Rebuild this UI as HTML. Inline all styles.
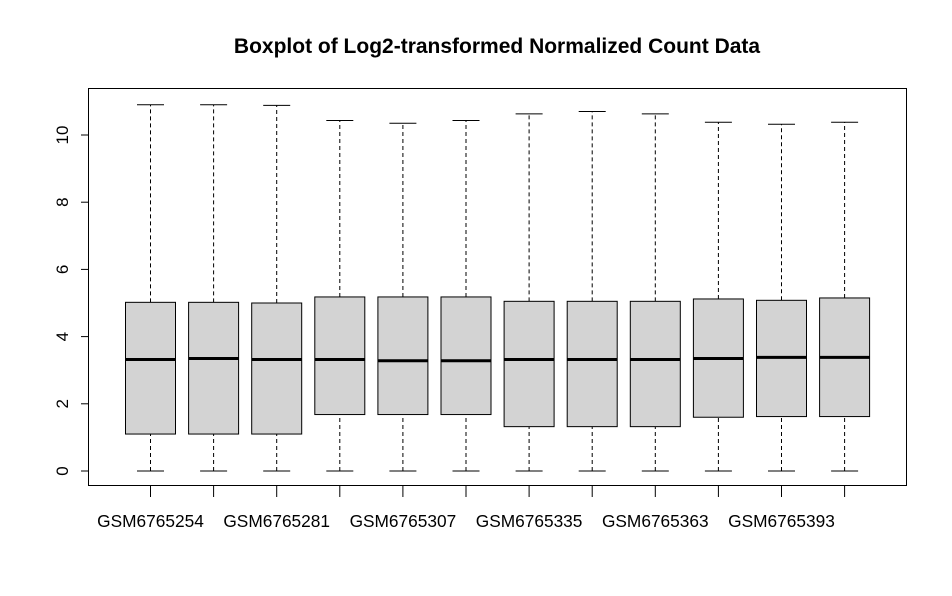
<!DOCTYPE html>
<html><head><meta charset="utf-8"><style>body{margin:0;background:#fff}svg{display:block}</style></head>
<body>
<svg id="chart" width="952" height="596" xmlns="http://www.w3.org/2000/svg" font-family="Liberation Sans, Arial, sans-serif">
<rect width="952" height="596" fill="#fff"/>
<text x="497" y="53" text-anchor="middle" font-weight="bold" font-size="21">Boxplot of Log2-transformed Normalized Count Data</text>
<rect x="88.5" y="88.5" width="818" height="397" fill="none" stroke="#000" stroke-width="1"/>
<g id="g"></g>
</svg>
<script>
const categories=["GSM6765254","GSM6765268","GSM6765281","GSM6765294","GSM6765307","GSM6765321","GSM6765335","GSM6765349","GSM6765363","GSM6765378","GSM6765393","GSM6765407"];
const showLabel=[true,false,true,false,true,false,true,false,true,false,true,false];
const mins=[0,0,0,0,0,0,0,0,0,0,0,0];
const q1s=[1.1,1.1,1.1,1.68,1.68,1.68,1.32,1.32,1.32,1.6,1.62,1.62];
const medians=[3.32,3.35,3.32,3.32,3.28,3.28,3.32,3.32,3.32,3.35,3.38,3.38];
const q3s=[5.02,5.02,5.0,5.18,5.18,5.18,5.05,5.05,5.05,5.12,5.08,5.15];
const maxs=[10.9,10.9,10.88,10.43,10.35,10.43,10.63,10.7,10.63,10.38,10.32,10.38];
const yTicks=[0,2,4,6,8,10];
const NS="http://www.w3.org/2000/svg",g=document.getElementById('g');
const y=v=>471-v*33.6;
const x=i=>150.5+i*63.1;
function el(t,a){const e=document.createElementNS(NS,t);for(const k in a)e.setAttribute(k,a[k]);g.appendChild(e);return e;}
yTicks.forEach(v=>{
 const t=el('line',{x1:81,x2:88.5,y1:y(v),y2:y(v),stroke:'#000'});
 
 
 const l=el('text',{x:0,y:0,'font-size':17,'text-anchor':'middle',transform:`translate(68,${y(v)}) rotate(-90)`});
 
 
 l.textContent=v;
});
categories.forEach((c,i)=>{
 const cx=x(i),hw=25,cw=13.5;
 const tk=el('line',{x1:cx,x2:cx,y1:485.5,y2:497,stroke:'#000'});
 
 
 if(showLabel[i]){const l=el('text',{x:cx,y:527,'font-size':17.3,'text-anchor':'middle'});
 
 
 l.textContent=c;}
 const w1=el('line',{x1:cx,x2:cx,y1:y(q3s[i]),y2:y(maxs[i]),stroke:'#000','stroke-dasharray':'4,3'});
 
 
 const w2=el('line',{x1:cx,x2:cx,y1:y(mins[i]),y2:y(q1s[i]),stroke:'#000','stroke-dasharray':'4,3'});
 
 
 const c1=el('line',{x1:cx-cw,x2:cx+cw,y1:y(maxs[i]),y2:y(maxs[i]),stroke:'#000'});
 
 
 const c2=el('line',{x1:cx-cw,x2:cx+cw,y1:y(mins[i]),y2:y(mins[i]),stroke:'#000'});
 
 
 const b=el('rect',{x:cx-hw,y:y(q3s[i]),width:2*hw,height:y(q1s[i])-y(q3s[i]),fill:'#d3d3d3',stroke:'#000'});
 
 
 const m=el('line',{x1:cx-hw,x2:cx+hw,y1:y(medians[i]),y2:y(medians[i]),stroke:'#000','stroke-width':3});
 
 
});
</script>
</body></html>
